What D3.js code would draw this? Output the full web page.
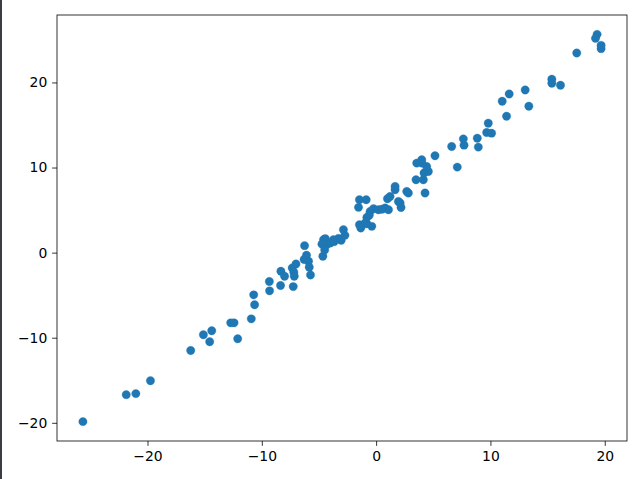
<!DOCTYPE html>
<html>
<head>
<meta charset="utf-8">
<script src="https://cdn.jsdelivr.net/npm/d3@7"></script>
<style>
html,body{margin:0;padding:0;background:#fff;}
svg{display:block;}
text{font-family:"DejaVu Sans",sans-serif;}
</style>
</head>
<body>
<script>
const xValues = [-25.65,-21.86,-21.02,-19.74,-16.22,-15.11,-14.38,-14.56,-12.72,-12.43,-12.11,-10.92,-10.63,-10.71,-9.32,-9.34,-8.36,-8.33,-8.01,-7.25,-7.16,-7.34,-7.01,-7.2,-6.26,-6.09,-5.91,-5.85,-5.74,-4.66,-4.60,-4.45,-4.31,-4.74,-4.0,-3.67,-3.29,-2.86,-2.73,-3.06,-3.73,-1.46,-0.81,-0.38,-1.34,-1.46,-0.87,-1.54,-0.96,-0.81,-0.52,-0.23,0.20,0.79,1.08,0.99,1.22,1.66,1.66,2.10,2.18,1.95,2.82,2.68,4.28,3.49,4.13,4.19,4.57,4.42,3.99,3.55,3.99,5.15,7.10,6.61,7.69,7.63,8.94,8.85,9.67,10.10,9.81,11.41,11.03,11.64,13.04,13.36,15.37,15.37,16.13,17.55,19.33,19.19,19.68,19.68,-0.6,0.5,-4.5,-6.3];
const yValues = [-19.86,-16.69,-16.57,-15.05,-11.50,-9.65,-9.18,-10.47,-8.25,-8.25,-10.12,-7.78,-6.13,-4.96,-4.49,-3.40,-3.87,-2.19,-2.78,-3.99,-2.78,-1.80,-1.33,-2.3,0.82,-0.31,-1.02,-1.72,-2.62,-0.43,1.52,1.65,0.94,1.0,1.14,1.29,1.68,2.70,2.03,1.44,1.52,3.28,3.40,3.09,2.90,6.22,6.22,5.32,3.48,4.14,4.85,5.16,5.04,5.24,5.04,6.33,6.60,7.39,7.78,5.83,5.31,6.02,7.00,7.19,7.00,8.56,8.56,9.35,9.54,10.12,10.52,10.52,10.91,11.38,10.05,12.47,12.63,13.37,12.40,13.45,14.11,14.04,15.21,16.03,17.79,18.65,19.12,17.21,20.38,19.91,19.67,23.46,25.65,25.18,24.36,23.97,4.4,5.1,0.3,-0.8];
const xTicks = [-20,-10,0,10,20];
const yTicks = [-20,-10,0,10,20];

const W = 639, H = 479;
const m = {left:57, top:15, right:627, bottom:441};
const svg = d3.select("body").append("svg").attr("width",W).attr("height",H);

svg.append("rect").attr("x",0).attr("y",0).attr("width",2).attr("height",H).attr("fill","#3a3d41");

function pad(ext){const r=ext[1]-ext[0];return [ext[0]-0.05*r, ext[1]+0.05*r];}
const x = d3.scaleLinear().domain(pad(d3.extent(xValues))).range([m.left,m.right]);
const y = d3.scaleLinear().domain(pad(d3.extent(yValues))).range([m.bottom,m.top]);

const fmt = d => (d<0 ? "\u2212"+Math.abs(d) : String(d));

const gx = svg.append("g").attr("transform",`translate(0,${m.bottom})`)
  .call(d3.axisBottom(x).tickValues(xTicks).tickFormat(fmt).tickSize(4.86).tickPadding(4.9));
const gy = svg.append("g").attr("transform",`translate(${m.left},0)`)
  .call(d3.axisLeft(y).tickValues(yTicks).tickFormat(fmt).tickSize(4.86).tickPadding(4.9));
[gx,gy].forEach(g=>{
  g.select(".domain").remove();
  g.selectAll("line").attr("stroke","#000").attr("stroke-width",0.8);
  g.selectAll("text").attr("font-family","DejaVu Sans").attr("font-size","13.9px").attr("fill","#000");
});

svg.append("g").selectAll("circle").data(xValues.map((v,i)=>[v,yValues[i]])).join("circle")
  .attr("cx",d=>x(d[0])).attr("cy",d=>y(d[1])).attr("r",4.2)
  .attr("fill","#1f77b4").attr("stroke","#1f77b4").attr("stroke-width",0.3);

svg.append("rect").attr("x",m.left).attr("y",m.top).attr("width",m.right-m.left).attr("height",m.bottom-m.top)
  .attr("fill","none").attr("stroke","#000").attr("stroke-width",0.8);
</script>
</body>
</html>
